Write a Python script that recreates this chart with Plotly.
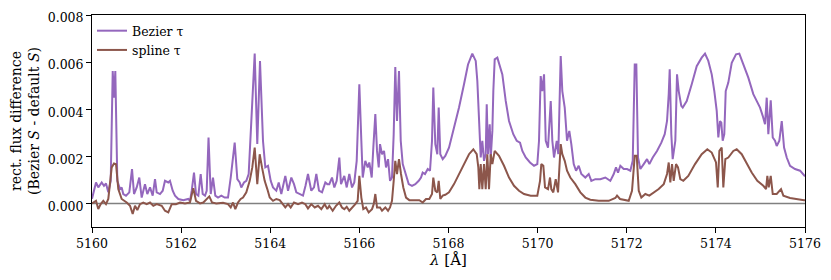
import plotly.graph_objects as go

# ---------------- data ----------------
bezier_wl = [
    5160.000, 5160.090, 5160.141, 5160.218, 5160.269, 5160.314, 5160.366, 5160.420, 5160.465, 5160.494,
    5160.523, 5160.568, 5160.628, 5160.666, 5160.702, 5160.763, 5160.837, 5160.898, 5160.943, 5161.003,
    5161.061, 5161.115, 5161.189, 5161.241, 5161.302, 5161.362, 5161.414, 5161.452, 5161.526, 5161.587,
    5161.638, 5161.712, 5161.750, 5161.811, 5161.863, 5161.937, 5162.049, 5162.161, 5162.199, 5162.238,
    5162.289, 5162.334, 5162.386, 5162.439, 5162.484, 5162.536, 5162.574, 5162.615, 5162.664, 5162.715,
    5162.767, 5162.828, 5162.902, 5162.978, 5163.052, 5163.113, 5163.202, 5163.261, 5163.315, 5163.350,
    5163.411, 5163.463, 5163.516, 5163.575, 5163.651, 5163.709, 5163.770, 5163.837, 5163.889, 5163.950,
    5164.010, 5164.062, 5164.136, 5164.190, 5164.248, 5164.338, 5164.399, 5164.473, 5164.533, 5164.585,
    5164.661, 5164.735, 5164.791, 5164.847, 5164.921, 5164.982, 5165.034, 5165.094, 5165.162, 5165.236,
    5165.281, 5165.325, 5165.386, 5165.438, 5165.491, 5165.550, 5165.588, 5165.662, 5165.716, 5165.774,
    5165.835, 5165.886, 5165.940, 5165.999, 5166.044, 5166.075, 5166.133, 5166.187, 5166.223, 5166.277,
    5166.313, 5166.358, 5166.396, 5166.434, 5166.463, 5166.508, 5166.553, 5166.598, 5166.643, 5166.688,
    5166.732, 5166.770, 5166.806, 5166.844, 5166.889, 5166.928, 5166.973, 5167.031, 5167.107, 5167.181,
    5167.255, 5167.332, 5167.383, 5167.421, 5167.473, 5167.534, 5167.585, 5167.630, 5167.659, 5167.704,
    5167.749, 5167.780, 5167.816, 5167.870, 5167.928, 5168.011, 5168.124, 5168.236, 5168.348, 5168.438,
    5168.534, 5168.611, 5168.647, 5168.685, 5168.723, 5168.759, 5168.797, 5168.835, 5168.858, 5168.887,
    5168.925, 5168.948, 5168.984, 5169.006, 5169.037, 5169.096, 5169.172, 5169.208, 5169.284, 5169.358,
    5169.454, 5169.531, 5169.605, 5169.657, 5169.733, 5169.829, 5169.919, 5169.993, 5170.031, 5170.069,
    5170.105, 5170.144, 5170.182, 5170.233, 5170.294, 5170.330, 5170.368, 5170.429, 5170.464, 5170.518,
    5170.554, 5170.608, 5170.660, 5170.711, 5170.756, 5170.810, 5170.862, 5170.922, 5170.981, 5171.070,
    5171.147, 5171.205, 5171.295, 5171.407, 5171.519, 5171.631, 5171.708, 5171.759, 5171.804, 5171.856,
    5171.932, 5172.006, 5172.080, 5172.134, 5172.179, 5172.215, 5172.253, 5172.305, 5172.381, 5172.455,
    5172.507, 5172.583, 5172.679, 5172.776, 5172.852, 5172.904, 5172.942, 5172.964, 5173.000, 5173.031,
    5173.090, 5173.128, 5173.166, 5173.224, 5173.256, 5173.346, 5173.458, 5173.570, 5173.682, 5173.756,
    5173.830, 5173.907, 5173.965, 5174.019, 5174.055, 5174.093, 5174.122, 5174.153, 5174.189, 5174.221,
    5174.279, 5174.356, 5174.452, 5174.526, 5174.616, 5174.728, 5174.840, 5174.930, 5174.991, 5175.051,
    5175.103, 5175.141, 5175.177, 5175.231, 5175.276, 5175.327, 5175.365, 5175.424, 5175.478, 5175.530,
    5175.590, 5175.664, 5175.776, 5175.889, 5175.978, 5176.000,
]
bezier_diff = [
    0.00020, 0.00089, 0.00068, 0.00089, 0.00075, 0.00085, 0.00047, 0.00096, 0.00562, 0.00449,
    0.00562, 0.00096, 0.00061, 0.00068, 0.00040, 0.00033, 0.00047, 0.00146, 0.00040, 0.00068,
    0.00110, 0.00025, 0.00082, 0.00040, 0.00068, 0.00033, 0.00103, 0.00047, 0.00040, 0.00054,
    0.00096, 0.00089, 0.00096, 0.00054, 0.00033, 0.00019, 0.00014, 0.00019, 0.00011, 0.00054,
    0.00131, 0.00040, 0.00033, 0.00125, 0.00040, 0.00033, 0.00054, 0.00280, 0.00040, 0.00110,
    0.00033, 0.00025, 0.00033, 0.00025, 0.00025, 0.00110, 0.00258, 0.00103, 0.00089, 0.00068,
    0.00089, 0.00096, 0.00125, 0.00336, 0.00636, 0.00252, 0.00605, 0.00266, 0.00153, 0.00160,
    0.00096, 0.00068, 0.00054, 0.00089, 0.00040, 0.00117, 0.00054, 0.00110, 0.00082, 0.00047,
    0.00040, 0.00033, 0.00075, 0.00125, 0.00054, 0.00068, 0.00125, 0.00054, 0.00047, 0.00089,
    0.00082, 0.00082, 0.00110, 0.00068, 0.00096, 0.00195, 0.00082, 0.00117, 0.00068, 0.00125,
    0.00068, 0.00089, 0.00181, 0.00506, 0.00266, 0.00110, 0.00181, 0.00153, 0.00174, 0.00110,
    0.00237, 0.00379, 0.00223, 0.00153, 0.00252, 0.00209, 0.00223, 0.00153, 0.00188, 0.00096,
    0.00110, 0.00294, 0.00579, 0.00350, 0.00562, 0.00266, 0.00167, 0.00125, 0.00082, 0.00075,
    0.00082, 0.00096, 0.00110, 0.00131, 0.00125, 0.00146, 0.00139, 0.00266, 0.00492, 0.00252,
    0.00209, 0.00407, 0.00209, 0.00188, 0.00202, 0.00237, 0.00322, 0.00407, 0.00506, 0.00590,
    0.00636, 0.00605, 0.00520, 0.00336, 0.00195, 0.00266, 0.00181, 0.00209, 0.00421, 0.00209,
    0.00336, 0.00195, 0.00308, 0.00477, 0.00612, 0.00619, 0.00576, 0.00548, 0.00435, 0.00350,
    0.00294, 0.00266, 0.00258, 0.00223, 0.00195, 0.00174, 0.00160, 0.00167, 0.00266, 0.00541,
    0.00477, 0.00548, 0.00266, 0.00237, 0.00435, 0.00266, 0.00195, 0.00266, 0.00209, 0.00626,
    0.00477, 0.00407, 0.00266, 0.00308, 0.00252, 0.00167, 0.00139, 0.00160, 0.00125, 0.00110,
    0.00125, 0.00096, 0.00103, 0.00103, 0.00110, 0.00096, 0.00125, 0.00153, 0.00131, 0.00160,
    0.00146, 0.00146, 0.00139, 0.00181, 0.00590, 0.00590, 0.00195, 0.00146, 0.00167, 0.00188,
    0.00167, 0.00195, 0.00223, 0.00258, 0.00294, 0.00350, 0.00464, 0.00570, 0.00294, 0.00188,
    0.00266, 0.00548, 0.00477, 0.00414, 0.00407, 0.00435, 0.00506, 0.00583, 0.00619, 0.00636,
    0.00605, 0.00548, 0.00477, 0.00393, 0.00280, 0.00350, 0.00343, 0.00266, 0.00294, 0.00477,
    0.00513, 0.00597, 0.00633, 0.00636, 0.00590, 0.00534, 0.00464, 0.00428, 0.00407, 0.00372,
    0.00336, 0.00449, 0.00294, 0.00438, 0.00280, 0.00266, 0.00244, 0.00266, 0.00350, 0.00237,
    0.00195, 0.00160, 0.00146, 0.00139, 0.00117, 0.00115,
]

spline_wl = [
    5160.000, 5160.090, 5160.141, 5160.195, 5160.254, 5160.314, 5160.366, 5160.415, 5160.442, 5160.494,
    5160.539, 5160.590, 5160.666, 5160.779, 5160.853, 5160.913, 5160.965, 5161.017, 5161.077, 5161.151,
    5161.227, 5161.302, 5161.376, 5161.452, 5161.564, 5161.638, 5161.712, 5161.789, 5161.885, 5161.975,
    5162.087, 5162.199, 5162.273, 5162.334, 5162.424, 5162.498, 5162.574, 5162.632, 5162.693, 5162.789,
    5162.940, 5163.052, 5163.113, 5163.164, 5163.216, 5163.276, 5163.337, 5163.389, 5163.463, 5163.539,
    5163.597, 5163.651, 5163.709, 5163.763, 5163.815, 5163.875, 5163.934, 5163.988, 5164.062, 5164.136,
    5164.212, 5164.286, 5164.338, 5164.399, 5164.459, 5164.533, 5164.623, 5164.713, 5164.787, 5164.847,
    5164.921, 5164.998, 5165.072, 5165.146, 5165.222, 5165.281, 5165.325, 5165.401, 5165.476, 5165.550,
    5165.610, 5165.662, 5165.716, 5165.774, 5165.850, 5165.909, 5165.962, 5165.999, 5166.044, 5166.088,
    5166.149, 5166.209, 5166.284, 5166.322, 5166.358, 5166.396, 5166.463, 5166.508, 5166.582, 5166.643,
    5166.688, 5166.732, 5166.770, 5166.806, 5166.844, 5166.889, 5166.934, 5166.986, 5167.047, 5167.121,
    5167.233, 5167.345, 5167.421, 5167.495, 5167.569, 5167.630, 5167.659, 5167.704, 5167.749, 5167.780,
    5167.816, 5167.870, 5167.928, 5168.011, 5168.124, 5168.236, 5168.348, 5168.460, 5168.557, 5168.633,
    5168.669, 5168.692, 5168.723, 5168.759, 5168.797, 5168.835, 5168.871, 5168.909, 5168.948, 5168.984,
    5169.037, 5169.133, 5169.246, 5169.358, 5169.470, 5169.582, 5169.695, 5169.845, 5169.993, 5170.054,
    5170.083, 5170.128, 5170.166, 5170.233, 5170.278, 5170.307, 5170.352, 5170.406, 5170.458, 5170.518,
    5170.554, 5170.608, 5170.660, 5170.734, 5170.846, 5170.959, 5171.070, 5171.182, 5171.371, 5171.596,
    5171.744, 5171.782, 5171.849, 5171.932, 5172.044, 5172.118, 5172.179, 5172.224, 5172.269, 5172.327,
    5172.417, 5172.507, 5172.605, 5172.717, 5172.830, 5172.904, 5172.942, 5172.978, 5173.016, 5173.054,
    5173.106, 5173.150, 5173.202, 5173.269, 5173.381, 5173.532, 5173.682, 5173.808, 5173.907, 5174.003,
    5174.042, 5174.078, 5174.131, 5174.167, 5174.212, 5174.279, 5174.392, 5174.467, 5174.580, 5174.692,
    5174.804, 5174.930, 5175.065, 5175.126, 5175.155, 5175.186, 5175.231, 5175.276, 5175.365, 5175.462,
    5175.514, 5175.664, 5175.850, 5175.978, 5176.000,
]
spline_diff = [
    0.00000, 0.00011, -0.00024, -0.00003, 0.00011, -0.00003, 0.00019, 0.00096, 0.00153, 0.00170,
    0.00167, 0.00061, 0.00019, 0.00004, -0.00010, -0.00045, -0.00010, -0.00028, -0.00003, 0.00004,
    -0.00003, 0.00004, -0.00010, -0.00003, -0.00010, -0.00031, -0.00038, -0.00003, -0.00003, 0.00004,
    0.00000, 0.00004, 0.00065, 0.00011, 0.00000, 0.00004, 0.00019, 0.00030, 0.00004, 0.00000,
    0.00003, -0.00003, -0.00017, 0.00004, -0.00024, 0.00004, 0.00019, 0.00025, 0.00047, 0.00096,
    0.00153, 0.00237, 0.00082, 0.00209, 0.00153, 0.00096, 0.00061, 0.00025, 0.00011, 0.00019,
    0.00014, -0.00003, -0.00017, -0.00003, -0.00017, 0.00004, -0.00003, 0.00004, -0.00003, -0.00021,
    -0.00003, -0.00017, -0.00010, -0.00024, -0.00003, -0.00024, -0.00010, -0.00031, -0.00010, 0.00004,
    -0.00017, -0.00024, -0.00014, -0.00031, -0.00017, -0.00003, 0.00011, 0.00117, 0.00025, -0.00024,
    -0.00017, -0.00038, -0.00024, -0.00003, 0.00040, -0.00017, -0.00017, -0.00031, -0.00017, -0.00031,
    -0.00017, 0.00011, 0.00096, 0.00181, 0.00125, 0.00188, 0.00125, 0.00068, 0.00025, 0.00014,
    0.00014, 0.00014, 0.00004, 0.00019, 0.00019, 0.00040, 0.00110, 0.00054, 0.00047, 0.00096,
    0.00019, 0.00033, 0.00037, 0.00047, 0.00082, 0.00125, 0.00167, 0.00209, 0.00230, 0.00209,
    0.00153, 0.00061, 0.00167, 0.00061, 0.00167, 0.00061, 0.00209, 0.00061, 0.00209, 0.00167,
    0.00223, 0.00202, 0.00160, 0.00110, 0.00075, 0.00054, 0.00040, 0.00033, 0.00033, 0.00096,
    0.00167, 0.00160, 0.00068, 0.00061, 0.00110, 0.00061, 0.00047, 0.00103, 0.00047, 0.00252,
    0.00209, 0.00181, 0.00139, 0.00110, 0.00082, 0.00047, 0.00025, 0.00016, 0.00011, 0.00011,
    0.00023, 0.00033, 0.00019, 0.00016, 0.00011, 0.00054, 0.00202, 0.00202, 0.00054, 0.00025,
    0.00040, 0.00033, 0.00047, 0.00061, 0.00082, 0.00125, 0.00174, 0.00089, 0.00167, 0.00096,
    0.00167, 0.00153, 0.00103, 0.00096, 0.00117, 0.00167, 0.00209, 0.00230, 0.00216, 0.00174,
    0.00068, 0.00223, 0.00237, 0.00068, 0.00188, 0.00195, 0.00223, 0.00230, 0.00209, 0.00167,
    0.00131, 0.00096, 0.00075, 0.00061, 0.00117, 0.00068, 0.00117, 0.00040, 0.00040, 0.00061,
    0.00033, 0.00023, 0.00016, 0.00014, 0.00014,
]

x_ticks = [5160, 5162, 5164, 5166, 5168, 5170, 5172, 5174, 5176]
y_ticks = [0.000, 0.002, 0.004, 0.006, 0.008]

series_names = ["Bezier τ", "spline τ"]
series_colors = ["#9467bd", "#8c564b"]

# ---------------- figure ----------------
FONT = "DejaVu Serif"

fig = go.Figure()
fig.add_trace(go.Scatter(x=bezier_wl, y=bezier_diff, mode="lines", name=series_names[0],
                         line=dict(color=series_colors[0], width=2)))
fig.add_trace(go.Scatter(x=spline_wl, y=spline_diff, mode="lines", name=series_names[1],
                         line=dict(color=series_colors[1], width=2)))

fig.add_shape(type="line", xref="paper", yref="y", x0=0, x1=1, y0=0, y1=0,
              line=dict(color="#808080", width=1.6), layer="below")

# the page body keeps an 8 px default margin, so the figure is 8 px smaller
fig.update_layout(
    width=823, height=272,
    margin=dict(l=84, r=26, t=7, b=53, autoexpand=False),
    paper_bgcolor="white", plot_bgcolor="white",
    font=dict(family=FONT, size=12.5, color="black"),
    showlegend=True,
    legend=dict(x=0.0, y=0.995, xanchor="left", yanchor="top",
                bgcolor="rgba(0,0,0,0)", borderwidth=0,
                font=dict(family=FONT, size=12.5), itemwidth=30,
                tracegroupgap=0),
    xaxis=dict(range=[5160, 5176], tickvals=x_ticks, ticktext=[str(v) for v in x_ticks],
               showgrid=False, zeroline=False, showline=True, linecolor="black", linewidth=1,
               mirror=True, ticks="outside", ticklen=5, tickcolor="black", automargin=False,
               ticklabeloverflow="allow",
               title=dict(text="<i>λ</i> [Å]", font=dict(family=FONT, size=15), standoff=2)),
    yaxis=dict(range=[-0.001, 0.008], tickvals=y_ticks, ticktext=[f"{v:.3f}" for v in y_ticks],
               showgrid=False, zeroline=False, showline=True, linecolor="black", linewidth=1,
               mirror=True, ticks="outside", ticklen=5, tickcolor="black", automargin=False,
               ticklabeloverflow="allow", ticklabelshift=3,
               title=dict(text="rect. flux difference<br>(Bezier <i>S</i> - default <i>S</i>)",
                          font=dict(family=FONT, size=14), standoff=6)),
)

fig.write_html("out.html")
